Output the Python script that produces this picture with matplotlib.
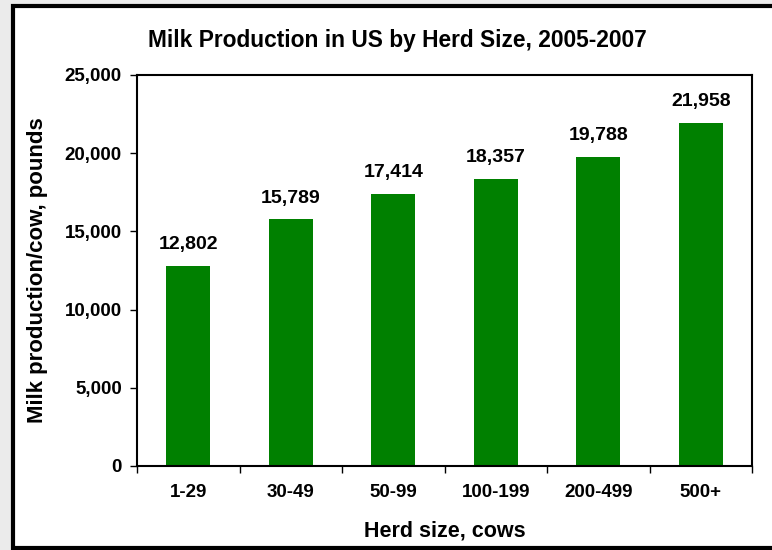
import matplotlib.pyplot as plt
from matplotlib.patches import Rectangle
from matplotlib.ticker import FuncFormatter

plt.rcParams['font.family'] = ['Liberation Sans', 'DejaVu Sans']
plt.rcParams['font.weight'] = 'bold'

# data
herd_sizes = ['1-29', '30-49', '50-99', '100-199', '200-499', '500+']
milk_per_cow = [12802, 15789, 17414, 18357, 19788, 21958]

fig = plt.figure(figsize=(7.72, 5.5), dpi=100)
fig.patch.set_facecolor('#ebebeb')

# white chart area with heavy black border
frame = Rectangle((13 / 772, 2.5 / 550), 1.0, 541.5 / 550, transform=fig.transFigure,
                  facecolor='white', edgecolor='black', linewidth=3, zorder=-5)
fig.patches.append(frame)

ax = fig.add_axes([137 / 772, 84 / 550, 615 / 772, 391 / 550])
ax.set_zorder(2)
ax.set_facecolor('white')

x = range(len(herd_sizes))
bars = ax.bar(x, milk_per_cow, width=0.43, color='#008000')

# value labels above bars
for b, v in zip(bars, milk_per_cow):
    ax.annotate(f'{v:,}', (b.get_x() + b.get_width() / 2, v),
                xytext=(0, 9), textcoords='offset points',
                ha='center', va='bottom', fontsize=14, fontweight='bold')

ax.set_xlim(-0.5, len(herd_sizes) - 0.5)
ax.set_ylim(0, 25000)
ax.set_yticks(range(0, 25001, 5000))
ax.yaxis.set_major_formatter(FuncFormatter(lambda v, p: f'{int(v):,}'))
ax.set_xticks(list(x))
ax.set_xticklabels(herd_sizes)
ax.set_xticks([i + 0.5 for i in range(-1, len(herd_sizes))], minor=True)
ax.tick_params(axis='x', which='major', length=0, pad=13, labelsize=13.5)
ax.tick_params(axis='x', which='minor', length=5, width=1)
ax.tick_params(axis='y', length=5, width=1, labelsize=13.5, pad=6)

for s in ax.spines.values():
    s.set_linewidth(1.5)

ax.set_xlabel('Herd size, cows', fontsize=15.5, fontweight='bold', va='center')
ax.xaxis.set_label_coords(0.5, -0.166)
ax.set_ylabel('Milk production/cow, pounds', fontsize=16, fontweight='bold', va='center')
ax.yaxis.set_label_coords(-0.161, 0.5)
fig.text(397 / 772, 509 / 550, 'Milk Production in US by Herd Size, 2005-2007',
         ha='center', va='center', fontsize=16.4, fontweight='bold')

plt.savefig('out.png', dpi=100, facecolor=fig.get_facecolor())
